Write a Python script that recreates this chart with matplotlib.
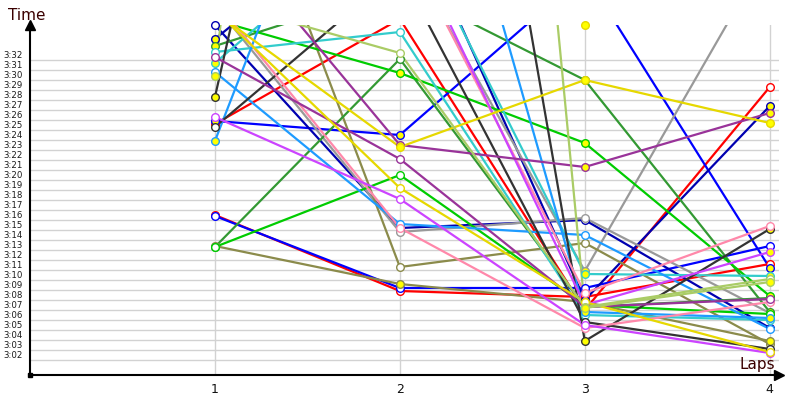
import matplotlib
matplotlib.use("Agg")
import matplotlib.pyplot as plt
import matplotlib.transforms as mtransforms

# ---- data (seconds past 3:00 for laps 1..4) ----
laps = [1, 2, 3, 4]
y_tick_values = list(range(2, 33))
y_tick_labels = ["3:02", "3:03", "3:04", "3:05", "3:06", "3:07", "3:08", "3:09", "3:10",
                 "3:11", "3:12", "3:13", "3:14", "3:15", "3:16", "3:17", "3:18", "3:19",
                 "3:20", "3:21", "3:22", "3:23", "3:24", "3:25", "3:26", "3:27", "3:28",
                 "3:29", "3:30", "3:31", "3:32"]
x_tick_labels = ["1", "2", "3", "4"]

series_colors = ["#ff0000", "#ff0000", "#0000ff", "#0000ff", "#0000b0", "#0000b0",
                 "#999999", "#999999", "#8b8b4b", "#8b8b4b", "#339933", "#339933",
                 "#00cc00", "#00cc00", "#33cccc", "#33cccc", "#1e9bff", "#1e9bff",
                 "#333333", "#333333", "#ff88aa", "#ff88aa", "#cc44ff", "#cc44ff",
                 "#993399", "#993399", "#e6d800", "#e6d800", "#e6d800", "#aacc66",
                 "#aacc66"]
series_faces = ["white", "white", "white", "#ffff00", "white", "#ffff00",
                "white", "#ffff00", "white", "#ffff00", "white", "#ffff00",
                "#ffff00", "white", "white", "#ffff00", "#ffff00", "white",
                "white", "#ffff00", "white", "white", "white", "#ffff00",
                "white", "#ffff00", "#ffff00", "white", "#ffff00", "white",
                "#ffff00"]
series_values = [
    [25.6, 36.1, 7.0, 29.3],
    [16.5, 8.9, 8.3, 11.6],
    [16.4, 9.2, 9.2, 13.4],
    [25.9, 24.5, 40.6, 11.2],
    [35.5, 15.2, 16.0, 5.2],
    [34.1, 49.0, 8.0, 27.4],
    [37.5, 14.8, 16.2, 6.7],
    [40.0, 44.0, 10.9, 43.0],
    [60.0, 11.3, 13.7, 3.6],
    [13.4, 9.6, 7.8, 3.9],
    [13.3, 32.1, 7.3, 8.2],
    [33.4, 39.3, 30.0, 6.8],
    [36.0, 30.7, 23.7, 8.4],
    [13.3, 20.5, 7.5, 6.6],
    [32.8, 34.8, 6.5, 6.0],
    [31.7, 47.5, 10.6, 10.4],
    [23.9, 71.5, 6.8, 6.2],
    [30.8, 15.6, 14.5, 5.1],
    [25.3, 41.0, 5.8, 3.1],
    [28.3, 110.0, 3.9, 15.1],
    [38.0, 15.2, 5.2, 7.8],
    [42.0, 44.6, 8.7, 15.4],
    [26.3, 18.1, 5.5, 2.7],
    [44.0, 46.0, 7.5, 12.8],
    [32.3, 22.1, 7.3, 8.1],
    [45.7, 23.5, 21.3, 26.7],
    [36.8, 23.3, 30.0, 25.7],
    [37.0, 19.2, 7.8, 2.8],
    [50.0, 60.0, 35.5, 60.0],
    [37.9, 32.7, 7.3, 10.1],
    [30.4, 200.0, 7.2, 9.8],
]

Y_MIN, Y_MAX = 0.5, 35.5
X_MIN, X_MAX = 0.0, 4.05

fig = plt.figure(figsize=(8, 4), dpi=100)
ax = fig.add_axes([30 / 800, 25 / 400, 749 / 800, 350 / 400])
ax.set_xlim(X_MIN, X_MAX)
ax.set_ylim(Y_MIN, Y_MAX)

# grid
for v in y_tick_values:
    ax.axhline(v, color="#d2d2d2", lw=1, zorder=0)
for lap in laps:
    ax.axvline(lap, color="#d2d2d2", lw=1, zorder=0)

# series
for col, face, vals in zip(series_colors, series_faces, series_values):
    ax.plot(laps, vals, color=col, lw=1.6, zorder=2, solid_capstyle="round")
for col, face, vals in zip(series_colors, series_faces, series_values):
    xs = [l for l, v in zip(laps, vals) if Y_MIN <= v <= Y_MAX]
    ys = [v for v in vals if Y_MIN <= v <= Y_MAX]
    ax.plot(xs, ys, ls="none", marker="o", ms=5.5, mfc=face, mec=col, mew=1.0,
            zorder=3, clip_on=False)

# axes styling
for s in ["top", "right"]:
    ax.spines[s].set_visible(False)
ax.spines["left"].set_linewidth(1.5)
ax.spines["bottom"].set_linewidth(1.5)
ax.set_yticks([])
ax.set_xticks(laps)
ax.set_xticklabels(x_tick_labels, fontsize=9, color="#111111")
ax.tick_params(axis="x", length=0, pad=6)

# y labels (drawn just above their grid lines)
ytr = mtransforms.blended_transform_factory(fig.transFigure, ax.transData)
for v, lab in zip(y_tick_values, y_tick_labels):
    fig.text(3 / 800, v + 0.5, lab, transform=ytr, fontsize=6.2, color="#1a1a1a",
             ha="left", va="center")

# arrows
ax.plot([0], [1], marker="^", ms=7, color="black", transform=ax.transAxes,
        clip_on=False, zorder=5)
ax.plot([1.0], [0], marker=">", ms=7, color="black", transform=ax.transAxes,
        clip_on=False, zorder=5)
ax.plot([0], [0], marker="s", ms=3, color="black", transform=ax.transAxes,
        clip_on=False, zorder=5)

fig.text(8 / 800, 1 - 15 / 400, "Time", fontsize=11, color="#3a0000",
         ha="left", va="center")
fig.text(775 / 800, 1 - 365 / 400, "Laps", fontsize=11, color="#3a0000",
         ha="right", va="center")

fig.savefig("out.png", dpi=100)
